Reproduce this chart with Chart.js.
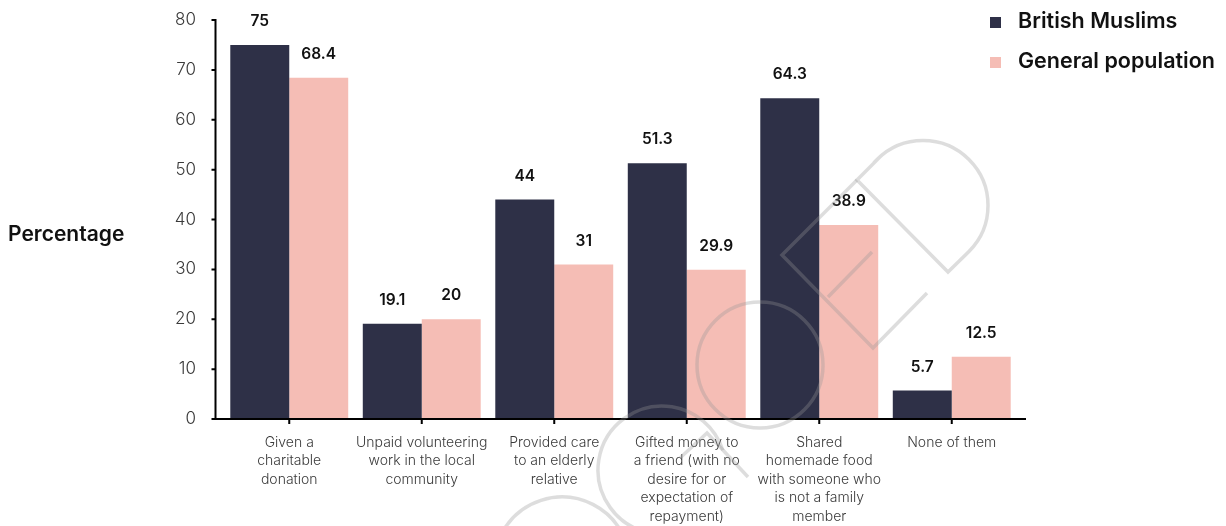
<!DOCTYPE html>
<html lang="en">
<head>
    <meta charset="UTF-8">
    <title>Acts of giving</title>
    <style>
        body { margin: 0; background: #fff; }
        #wrap { position: relative; width: 1226px; height: 526px; }
    </style>
    <script src="https://cdn.jsdelivr.net/npm/chart.js"></script>
</head>
<body>
<div id="wrap"><canvas id="givingChart" width="1226" height="526"></canvas></div>
<script>
    const categories = [
        ["Given a", "charitable", "donation"],
        ["Unpaid volunteering", "work in the local", "community"],
        ["Provided care", "to an elderly", "relative"],
        ["Gifted money to", "a friend (with no", "desire for or", "expectation of", "repayment)"],
        ["Shared", "homemade food", "with someone who", "is not a family", "member"],
        ["None of them"]
    ];
    const britishMuslims = [75, 19.1, 44, 51.3, 64.3, 5.7];
    const generalPopulation = [68.4, 20, 31, 29.9, 38.9, 12.5];
    const yTicks = [0, 10, 20, 30, 40, 50, 60, 70, 80];

    const NAVY = "#2e3047";
    const PINK = "#f5bdb5";
    const FONT = "Inter, 'Open Sans', sans-serif";

    // axis lines, tick marks, value labels, side title, legend and the faint logo
    const decorations = {
        id: "decorations",
        afterDraw(chart) {
            const ctx = chart.ctx;
            const area = chart.chartArea;
            const xs = chart.scales.x, ys = chart.scales.y;
            const axisX = area.left - 7.5;
            const axisY = area.bottom;

            ctx.save();
            ctx.strokeStyle = "#000";
            ctx.lineWidth = 2;
            ctx.beginPath();
            ctx.moveTo(axisX, area.top - 1);
            ctx.lineTo(axisX, axisY + 1);
            ctx.moveTo(axisX - 1, axisY);
            ctx.lineTo(area.right + 8, axisY);
            yTicks.forEach(v => {
                const y = ys.getPixelForValue(v);
                ctx.moveTo(axisX - 4, y);
                ctx.lineTo(axisX, y);
            });
            categories.forEach((c, i) => {
                const x = xs.getPixelForValue(i);
                ctx.moveTo(x, axisY);
                ctx.lineTo(x, axisY + 5);
            });
            ctx.stroke();

            // value labels above bars
            ctx.fillStyle = "#111";
            ctx.font = "600 15.5px " + FONT;
            ctx.textAlign = "center";
            ctx.textBaseline = "middle";
            chart.data.datasets.forEach((ds, di) => {
                chart.getDatasetMeta(di).data.forEach((bar, i) => {
                    ctx.fillText(String(ds.data[i]), bar.x, bar.y - 23.5);
                });
            });

            // side title
            ctx.font = "600 21px " + FONT;
            ctx.textAlign = "left";
            ctx.fillText("Percentage", 8, 235);

            // legend
            chart.data.datasets.forEach((ds, di) => {
                const y = 22 + di * 40;
                ctx.fillStyle = ds.backgroundColor;
                ctx.fillRect(990, y - 5, 11, 11);
                ctx.fillStyle = "#111";
                ctx.font = "600 21.5px " + FONT;
                ctx.fillText(ds.label, 1018, y);
            });

            // faint logo outline over the plot
            ctx.strokeStyle = "rgba(150,150,150,0.32)";
            ctx.lineWidth = 3.5;
            ctx.beginPath();
            ctx.arc(760, 365, 63, 0, Math.PI * 2);
            ctx.stroke();
            ctx.beginPath();
            ctx.arc(662, 470, 64, Math.PI * 0.55, Math.PI * 1.9);
            ctx.stroke();
            ctx.beginPath();
            ctx.arc(562, 565, 68, Math.PI * 1.15, Math.PI * 1.85);
            ctx.stroke();
            ctx.beginPath();
            ctx.moveTo(680, 458);
            ctx.lineTo(707, 433);
            ctx.lineTo(748, 477);
            ctx.stroke();
            ctx.beginPath();
            ctx.moveTo(948, 272);
            ctx.lineTo(857, 180);
            ctx.lineTo(877.5, 159.5);
            ctx.arc(923, 205.5, 65, -Math.PI * 3 / 4, Math.PI / 4);
            ctx.closePath();
            ctx.stroke();
            ctx.beginPath();
            ctx.moveTo(857, 180);
            ctx.lineTo(782, 255);
            ctx.lineTo(873, 348);
            ctx.lineTo(927, 293);
            ctx.stroke();
            ctx.beginPath();
            ctx.moveTo(872, 252);
            ctx.lineTo(828, 297);
            ctx.stroke();
            ctx.restore();
        }
    };

    new Chart(document.getElementById("givingChart"), {
        type: "bar",
        data: {
            labels: categories,
            datasets: [
                { label: "British Muslims", data: britishMuslims, backgroundColor: NAVY },
                { label: "General population", data: generalPopulation, backgroundColor: PINK }
            ]
        },
        options: {
            responsive: false,
            devicePixelRatio: 1,
            animation: false,
            events: [],
            layout: { padding: { top: 20, right: 208, left: 0, bottom: 0 } },
            datasets: { bar: { categoryPercentage: 0.89, barPercentage: 1 } },
            plugins: { legend: { display: false }, tooltip: { enabled: false } },
            scales: {
                x: {
                    grid: { display: false },
                    border: { display: false },
                    ticks: {
                        color: "#3a3a3a",
                        font: { family: FONT, size: 14, weight: 300, lineHeight: 1.33 },
                        padding: 6,
                        maxRotation: 0,
                        autoSkip: false
                    },
                    afterFit(s) { s.height = 107; s.paddingLeft = 0; s.paddingRight = 0; }
                },
                y: {
                    min: 0,
                    max: 80,
                    grid: { display: false },
                    border: { display: false },
                    afterBuildTicks(s) { s.ticks = yTicks.map(v => ({ value: v })); },
                    ticks: {
                        color: "#3a3a3a",
                        font: { family: FONT, size: 17, weight: 300 },
                        padding: 19
                    },
                    afterFit(s) { s.width = 223; s.paddingTop = 0; s.paddingBottom = 0; }
                }
            }
        },
        plugins: [decorations]
    });
</script>
</body>
</html>
